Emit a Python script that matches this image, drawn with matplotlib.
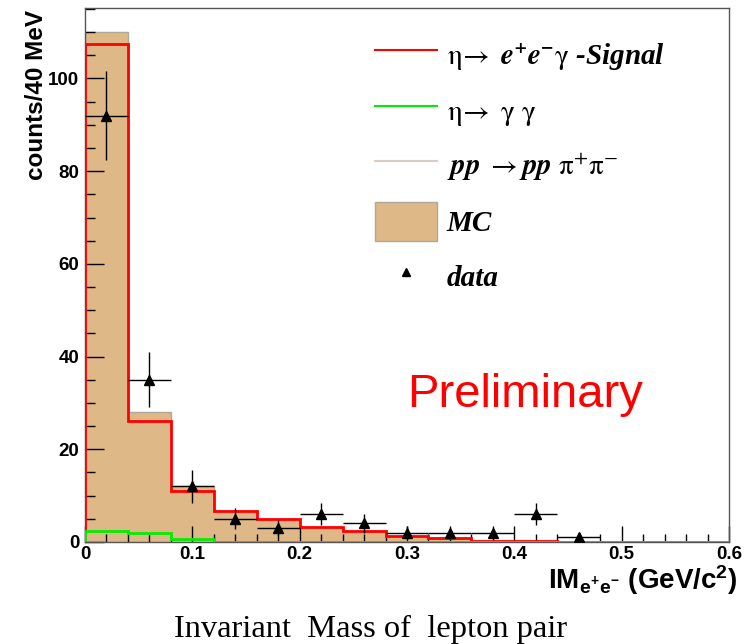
import numpy as np
import matplotlib
matplotlib.use("Agg")
import matplotlib.pyplot as plt
from matplotlib.ticker import MultipleLocator, FormatStrFormatter
from matplotlib.lines import Line2D
from matplotlib.patches import Patch

plt.rcParams['mathtext.fontset'] = 'custom'
plt.rcParams['mathtext.rm'] = 'Liberation Sans:bold'
plt.rcParams['mathtext.bf'] = 'Liberation Sans:bold'
plt.rcParams['mathtext.it'] = 'Liberation Sans:bold'

# ---- data ----
bin_edges = np.round(np.arange(0, 0.6001, 0.04), 2)
mc_values = [110, 28, 12, 6.7, 4.9, 3.2, 2.3, 1.4, 0.8, 0.2, 0.2, 0, 0, 0, 0]
signal_values = [107.4, 26.2, 11, 6.7, 4.9, 3.2, 2.3, 1.4, 0.8, 0.2, 0.2, 0, 0, 0, 0]
gg_values = [2.4, 1.9, 0.6, 0, 0, 0, 0, 0, 0, 0, 0, 0, 0, 0, 0]
data_x = [0.02, 0.06, 0.10, 0.14, 0.18, 0.22, 0.26, 0.30, 0.34, 0.38, 0.42, 0.46]
data_y = [92, 35, 12, 5, 3, 6, 4, 2, 2, 2, 6, 1]
data_yerr = [9.6, 5.9, 3.5, 2.3, 1.7, 2.4, 2.0, 1.4, 1.4, 1.4, 2.4, 1.0]
data_xerr = [0.02] * len(data_x)

fig = plt.figure(figsize=(7.54, 6.44), dpi=100)
ax = fig.add_axes([85/754, 1-542/644, (729-85)/754, (542-8)/644])

ax.stairs(mc_values, bin_edges, fill=True, color='#deb887', zorder=1)
ax.stairs(mc_values, bin_edges, color='#b0a898', lw=1, zorder=1.5)
ax.stairs(signal_values, bin_edges, color='#ff0000', lw=2, zorder=3)
ax.stairs(gg_values, bin_edges, color='#00ee00', lw=2, zorder=3.5)
ax.errorbar(data_x, data_y, xerr=data_xerr, yerr=data_yerr, fmt='^', color='black',
            ms=7, elinewidth=1, capsize=0, zorder=4)

ax.set_xlim(0, 0.6)
ax.set_ylim(0, 115.2)
ax.xaxis.set_major_locator(MultipleLocator(0.1))
ax.xaxis.set_minor_locator(MultipleLocator(0.02))
ax.yaxis.set_major_locator(MultipleLocator(20))
ax.yaxis.set_minor_locator(MultipleLocator(5))
ax.xaxis.set_major_formatter(FormatStrFormatter('%g'))
ax.tick_params(axis='x', which='major', direction='in', length=11.5, width=1, pad=3)
ax.tick_params(axis='x', which='minor', direction='in', length=6, width=1)
ax.tick_params(axis='y', which='major', direction='in', length=13.5, width=1, pad=4)
ax.tick_params(axis='y', which='minor', direction='in', length=7, width=1)
for lab in ax.get_xticklabels() + ax.get_yticklabels():
    lab.set_fontfamily('Liberation Sans')
    lab.set_fontweight('bold')
    lab.set_fontsize(13.5)
for s in ax.spines.values():
    s.set_color('#555555')
    s.set_linewidth(1)

fig.text(37/754, 1-10/644, 'counts/40 MeV', rotation=90, ha='center', va='top',
         family='Liberation Sans', weight='bold', fontsize=17.5)
fig.text(737/754, 1-589/644, r'IM$_{e^{+}e^{-}}$ (GeV/c$^{2}$)', ha='right', va='baseline',
         family='Liberation Sans', weight='bold', fontsize=20)
fig.text(371/754, 1-637/644, 'Invariant  Mass of  lepton pair', ha='center', va='baseline',
         family='Liberation Serif', fontsize=23.4)
fig.text(525/754, 1-407/644, 'Preliminary', ha='center', va='baseline', color='#ff0000',
         family='Liberation Sans', fontsize=34)

handles = [
    Line2D([], [], color='#ff0000', lw=1.5),
    Line2D([], [], color='#00ee00', lw=1.5),
    Line2D([], [], color='#d8ccc4', lw=1.5),
    Patch(facecolor='#deb887', edgecolor='#b0a898'),
    Line2D([], [], ls='none', marker='^', color='black', ms=6),
]
labels = [
    r'$\mathrm{\eta}\!\rightarrow\ \mathbfit{e^{+}e^{-}}\mathrm{\gamma}$ -Signal',
    r'$\mathrm{\eta}\!\rightarrow\ \mathrm{\gamma\ \gamma}$',
    r'$\mathbfit{pp}\ \rightarrow \mathbfit{pp}\ \mathrm{\pi^{+}\pi^{-}}$',
    'MC',
    'data',
]
leg = ax.legend(handles, labels, loc='upper left', bbox_to_anchor=((375-85)/644, 1-(36-8)/534),
                frameon=False, handlelength=2.12, handleheight=1.68, handletextpad=0.34,
                labelspacing=0.56, borderpad=0, borderaxespad=0,
                prop={'family': 'Liberation Serif', 'weight': 'bold', 'style': 'italic', 'size': 21})
for t in leg.get_texts():
    t.set_math_fontfamily('stix')

fig.savefig('out.png', dpi=100)
